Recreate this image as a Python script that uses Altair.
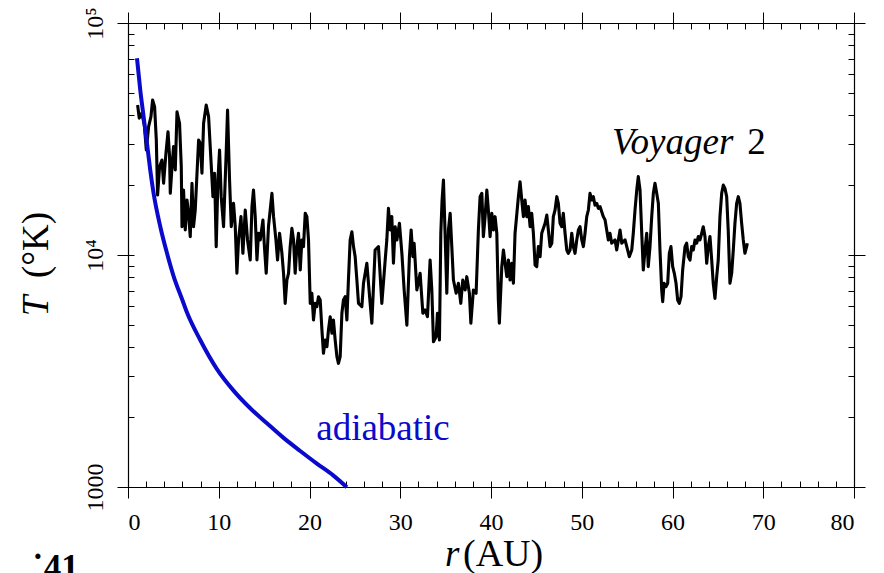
import altair as alt
import pandas as pd

# ---------------- data ----------------
r_voy = [1.06,1.24,1.52,1.80,2.02,2.27,2.53,2.71,2.93,3.12,
         3.26,3.48,3.74,3.92,4.18,4.41,4.58,4.66,4.85,5.02,
         5.21,5.40,5.68,5.87,5.95,6.12,6.31,6.50,6.67,6.86,
         7.05,7.22,7.41,7.78,7.96,8.15,8.33,8.62,8.88,9.14,
         9.36,9.54,9.72,9.91,10.09,10.27,10.53,10.83,10.97,11.19,
         11.38,11.63,11.82,12.00,12.18,12.45,12.66,12.92,13.17,13.47,
         13.66,13.83,14.02,14.21,14.38,14.57,14.87,15.01,15.23,15.48,
         15.67,15.86,16.04,16.30,16.48,16.70,16.96,17.14,17.32,17.51,
         17.69,17.87,18.06,18.24,18.42,18.61,18.79,18.98,19.16,19.34,
         19.53,19.71,19.89,20.08,20.26,20.44,20.63,20.81,20.99,21.18,
         21.37,21.54,21.73,21.92,22.09,22.28,22.47,22.64,22.83,23.02,
         23.19,23.38,23.57,23.74,23.93,24.12,24.29,24.48,24.67,24.85,
         25.03,25.22,25.40,25.77,25.95,26.32,26.50,26.87,27.23,27.60,
         27.97,28.34,28.52,28.70,28.89,29.07,29.25,29.44,29.63,29.91,
         30.18,30.43,30.73,31.01,31.20,31.39,31.53,31.83,32.19,32.49,
         32.74,33.00,33.29,33.48,33.66,33.95,34.10,34.32,34.47,34.61,
         34.76,34.94,35.13,35.31,35.50,35.68,35.86,36.16,36.41,36.67,
         36.89,37.15,37.33,37.62,37.78,38.06,38.36,38.61,38.80,38.99,
         39.16,39.35,39.54,39.71,39.90,40.09,40.26,40.45,40.64,40.81,
         40.92,41.19,41.37,41.55,41.74,41.92,42.10,42.29,42.47,42.65,
         43.02,43.20,43.39,43.57,43.75,43.94,44.12,44.31,44.49,44.67,
         44.86,45.04,45.22,45.41,45.59,45.96,46.15,46.32,46.51,46.70,
         46.87,47.06,47.25,47.42,47.61,47.80,47.97,48.16,48.35,48.52,
         48.71,48.90,49.07,49.26,49.45,49.63,49.81,50.00,50.18,50.36,
         50.55,50.73,50.91,51.10,51.28,51.46,51.65,51.83,52.02,52.20,
         52.38,52.57,52.75,52.93,53.11,53.30,53.67,53.85,54.22,54.41,
         54.77,54.96,55.24,55.51,55.68,55.87,56.06,56.23,56.42,56.61,
         56.78,56.97,57.16,57.33,57.52,57.71,57.89,58.07,58.26,58.44,
         58.62,58.81,58.92,59.07,59.28,59.47,59.65,59.83,60.02,60.20,
         60.39,60.57,60.75,60.94,61.12,61.38,61.56,61.74,61.93,62.11,
         62.29,62.48,62.67,62.84,63.03,63.22,63.39,63.58,63.77,63.94,
         64.13,64.32,64.49,64.68,64.87,65.04,65.23,65.42,65.60,65.78,
         65.97,66.14,66.33,66.52,66.70,66.88,67.07,67.25,67.43,67.62,
         67.80,67.98,68.17,68.24]

T_voy = [44300,38900,40900,36300,28350,35750,39470,46560,43580,31310,
         18130,24030,25670,20380,27440,33990,26540,18450,24030,29310,
         23250,41450,36970,24030,13240,19060,12820,17260,15130,12000,
         20380,13240,15630,31310,30310,22510,36970,44280,39470,25670,
         17840,22510,10870,21050,28350,17840,13240,28350,42170,21050,
         13240,16710,13240,8340,11610,14630,10170,15630,11610,9515,
         16160,19060,14630,9515,12410,11610,14150,11240,8340,13240,
         15630,18450,14630,11610,9515,12410,10170,8340,6190,7802,
         8340,10870,13020,11610,8340,10870,12410,8616,11610,10870,
         15130,14630,11610,6190,6840,5245,6190,5990,6610,6397,
         4750,3770,4301,4026,4750,5420,4600,5245,4301,3645,
         3413,3645,5610,6397,6610,5245,7802,11610,12600,10870,
         9840,7802,6190,5990,7550,9210,7550,5077,10510,10870,
         6190,9515,11610,15880,12820,14630,9210,13240,11610,13700,
         10170,7065,4988,9840,12820,9840,11240,7065,8340,5610,
         5793,5420,9515,7065,4228,4446,5610,4301,12410,17260,
         21050,12410,6840,12820,15130,10870,7802,6840,7550,6190,
         7802,7065,8065,6840,5077,7065,6840,12820,17840,18450,
         12000,14630,19060,15630,12000,15130,12820,14630,12410,6397,
         5077,8906,10510,9210,8065,9515,7802,9210,7550,12410,
         17840,20690,17260,14630,17260,14630,16160,13240,15130,12410,
         9050,8906,10870,9840,12410,13700,14860,12820,10870,11240,
         14630,15630,17840,16710,13700,13240,15130,12410,10510,10170,
         10510,12410,10870,10170,11610,12820,13240,11610,10870,12410,
         14630,15630,18450,17260,17840,16410,16710,15880,16160,15360,
         14630,14150,12820,11610,12410,11240,11610,10510,12820,11240,
         11610,10870,9840,10510,12410,15630,19060,21760,19060,12410,
         8616,10510,12410,8906,10870,14630,18450,20380,18450,16710,
         10510,7065,6290,7550,7300,7550,10170,10870,8906,8340,
         7550,6397,6190,6610,8616,10870,11240,9840,9515,10870,
         10510,11610,11240,12000,11610,12410,13240,12000,9210,10870,
         12000,9515,7550,6500,8065,9515,14630,18450,20020,19370,
         17840,12820,7550,8340,10510,13700,16710,17840,16710,13700,
         11610,10170,10870,11240]

r_adi = [0.99,1.35,1.72,2.09,2.45,2.82,3.56,4.30,5.02,5.95,6.50,
         7.96,9.80,11.63,13.47,15.31,17.14,18.98,20.81,22.64,24.12]
T_adi = [70460,51420,39460,30300,23250,18450,13240,10170,8116,6458,5650,
         4301,3223,2603,2185,1882,1628,1430,1262,1120,998]

x_major = [0, 10, 20, 30, 40, 50, 60, 70, 80]
x_all = list(range(0, 81, 2))
y_major = [1000, 10000, 100000]
y_all = [1000, 2000, 3000, 4000, 5000, 6000, 7000, 8000, 9000,
         10000, 20000, 30000, 40000, 50000, 60000, 70000, 80000, 90000, 100000]

# ---------------- layout ----------------
W, H = 726, 464
FONT = "'Liberation Serif', 'Times New Roman', Tinos, 'DejaVu Serif', serif"
BLUE = "#0a0acc"

xs = alt.Scale(domain=[0, 80], nice=False, zero=False)
ys = alt.Scale(type="log", domain=[1000, 100000], nice=False)


def ax(orient, values, size, offset=0, labels=False, domain=False, **kw):
    return alt.Axis(orient=orient, values=values, tickSize=size, offset=offset,
                    labels=labels, domain=domain, grid=False, title=None,
                    ticks=True, tickColor="black", tickWidth=1,
                    domainColor="black", domainWidth=1.2, **kw)


voy = pd.DataFrame({"r": r_voy, "T": T_voy})
adi = pd.DataFrame({"r": r_adi, "T": T_adi})

# layer 1: data line, labelled bottom/left axes (outward major ticks)
l_voy = alt.Chart(voy).mark_line(color="black", strokeWidth=3.1, strokeJoin="round").encode(
    x=alt.X("r:Q", scale=xs,
            axis=ax("bottom", x_major, 11, labels=True, domain=True,
                    labelFont=FONT, labelFontSize=24, labelColor="black", labelPadding=12)),
    y=alt.Y("T:Q", scale=ys,
            axis=ax("left", y_major, 11, labels=True, domain=True,
                    labelFont=FONT, labelFontSize=24, labelColor="black", labelPadding=15,
                    labelAngle=270, labelAlign="center", labelBaseline="alphabetic",
                    labelExpr="datum.value == 1000 ? '1000' : (datum.value == 10000 ? '10\u2074' : '10\u2075')")),
)

# layer 2: adiabatic curve, inward ticks on bottom and left
l_adi = alt.Chart(adi).mark_line(color=BLUE, strokeWidth=4, interpolate="monotone").encode(
    x=alt.X("r:Q", scale=xs, axis=ax("top", x_all, 6, offset=-H)),
    y=alt.Y("T:Q", scale=ys, axis=ax("right", y_all, 6, offset=-W)),
)

# layer 3: "Voyager" label, outward major ticks top/right with frame lines
l_voy_lbl = alt.Chart().mark_text(text="Voyager", font=FONT, fontSize=37, fontStyle="italic",
                                  align="left", baseline="alphabetic", color="black").encode(
    x=alt.XDatum(53.34, type="quantitative", scale=xs, axis=ax("top", x_major, 11, domain=True)),
    y=alt.YDatum(27120, type="quantitative", scale=ys, axis=ax("right", y_major, 11, domain=True)),
)

# layer 4: "adiabatic" label, inward ticks on top and right
l_adi_lbl = alt.Chart().mark_text(text="adiabatic", font=FONT, fontSize=37,
                                  align="left", baseline="alphabetic", color=BLUE).encode(
    x=alt.XDatum(20.74, type="quantitative", scale=xs, axis=ax("bottom", x_all, 6, offset=-H)),
    y=alt.YDatum(1590, type="quantitative", scale=ys, axis=ax("left", y_all, 6, offset=-W)),
)

l_two = alt.Chart().mark_text(text="2", font=FONT, fontSize=37,
                              align="left", baseline="alphabetic", color="black").encode(
    x=alt.XDatum(68.25, type="quantitative", scale=xs, axis=None),
    y=alt.YDatum(27120, type="quantitative", scale=ys, axis=None),
)

# axis titles (mixed italic / roman) and the cut-off text at the bottom
t_r = alt.Chart().mark_text(text="r", font=FONT, fontSize=37, fontStyle="italic",
                            align="left", baseline="alphabetic", color="black").encode(
    x=alt.value(317), y=alt.value(543))
t_au = alt.Chart().mark_text(text="(AU)", font=FONT, fontSize=38,
                             align="left", baseline="alphabetic", color="black").encode(
    x=alt.value(335), y=alt.value(543))
t_T = alt.Chart().mark_text(text="T", font=FONT, fontSize=37, fontStyle="italic", angle=270,
                            align="center", baseline="alphabetic", color="black").encode(
    x=alt.value(-80), y=alt.value(283))
t_K = alt.Chart().mark_text(text="(\u00b0K)", font=FONT, fontSize=37, angle=270,
                            align="center", baseline="alphabetic", color="black").encode(
    x=alt.value(-80), y=alt.value(222))
t_cut = alt.Chart().mark_text(text="\u02d941", font=FONT, fontSize=35, fontWeight="bold",
                              align="left", baseline="alphabetic", color="black").encode(
    x=alt.value(-96), y=alt.value(556))

chart = alt.layer(
    l_voy, l_adi, l_voy_lbl, l_adi_lbl, l_two, t_r, t_au, t_T, t_K, t_cut
).resolve_axis(
    x="independent", y="independent"
).properties(
    width=W, height=H,
    padding={"left": 128, "top": 23, "right": 30, "bottom": 86},
    autosize=alt.AutoSizeParams(type="none"),
    background="white",
).configure_view(stroke=None)

chart.save("out.html", embed_options={"renderer": "svg", "actions": False})
